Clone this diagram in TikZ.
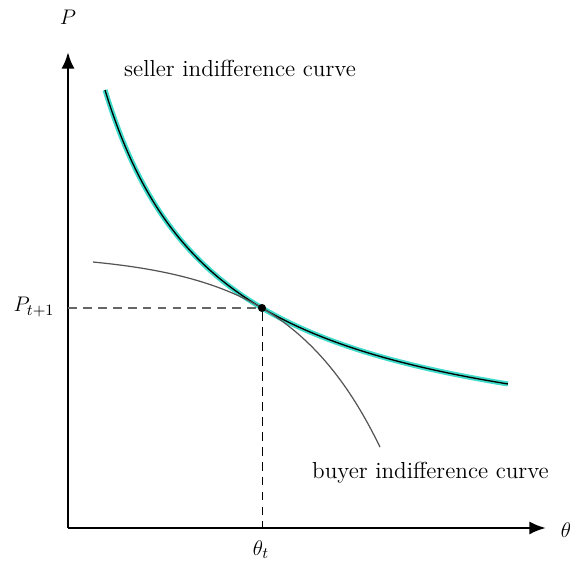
\documentclass[tikz,border=0pt]{standalone}
\usepackage{tikz}
\usetikzlibrary{arrows.meta,positioning}
\usepackage{amsmath}
\definecolor{sellercol}{HTML}{3FDCCB}
\definecolor{buyercol}{HTML}{555555}
\definecolor{guide}{HTML}{666666}

\begin{document}
\begin{tikzpicture}[
  every node/.style={font=\fontsize{13.2}{16}\selectfont},
  axis/.style={line width=1.5pt,-{Latex[length=9.5pt,width=7.5pt]}},
  guideline/.style={dash pattern=on 5pt off 3.5pt}]
  \useasboundingbox (-1.36,-0.68) rectangle (10.12,10.56);

  % Axes
  \coordinate (O) at (0,0);
  \coordinate (ytip) at (0,9.52);
  \coordinate (xtip) at (9.56,0);
  \draw[axis] (O) -- (ytip);
  \draw[axis] (O) -- (xtip);
  \node (plab) at (0,10.22) {$P$};
  \node (thetalab) at (9.96,-0.04) {$\theta$};

  % Seller indifference curve
  \draw[black,line width=0.75pt,preaction={draw,sellercol,line width=2.9pt},
        domain=0.74:8.8,samples=120] plot (\x,{17.418/(\x+1.564)+1.2});
  \node[anchor=west] (sellerlab) at (1.0,9.2) {seller indifference curve};

  % Buyer indifference curve
  \draw[buyercol,line width=0.7pt,domain=0.5:6.24,samples=120]
        plot (\x,{5.5-1.1*exp(0.5345*(\x-3.88))});
  \node[anchor=west] (buyerlab) at (4.76,1.1) {buyer indifference curve};

  % Tangency point and guides
  \node[circle,fill,inner sep=0pt,minimum size=4.6pt] (tang) at (3.88,4.40) {};
  \coordinate (tangx) at (tang |- O);
  \coordinate (tangy) at (tang -| O);
  \draw[guideline,guide,line width=0.7pt] (tangy) -- (tang);
  \draw[guideline,line width=0.45pt] (tang) -- (tangx);
  \node (thetat) at (3.86,-0.44) {$\theta_t$};
  \node (pnext) at (-0.68,4.42) {$P_{t+1}$};
\end{tikzpicture}
\end{document}
